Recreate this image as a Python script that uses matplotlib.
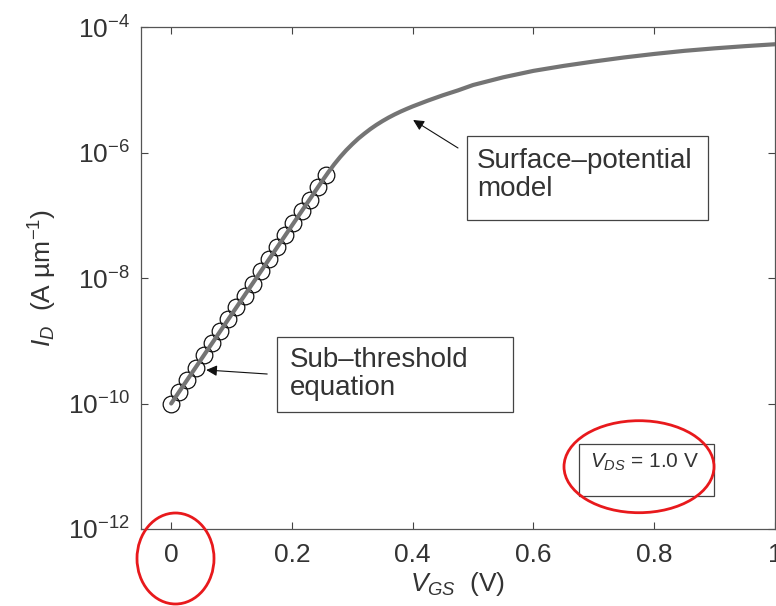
import matplotlib
matplotlib.use("Agg")
import matplotlib.pyplot as plt
from matplotlib.patches import Ellipse, Rectangle
import numpy as np

plt.rcParams['font.family'] = ['Liberation Sans', 'DejaVu Sans']
plt.rcParams['mathtext.fontset'] = 'custom'
plt.rcParams['mathtext.rm'] = 'Liberation Sans'
plt.rcParams['mathtext.it'] = 'Liberation Sans:italic'
plt.rcParams['mathtext.default'] = 'regular'

# sub-threshold equation points (circles)
vgs_sub = [0.0, 0.0135, 0.027, 0.0405, 0.054, 0.0675, 0.081, 0.0945, 0.108, 0.1215,
           0.135, 0.1485, 0.162, 0.1755, 0.189, 0.2025, 0.216, 0.2295, 0.243, 0.2565]
id_sub = [1.00e-10, 1.55e-10, 2.40e-10, 3.72e-10, 5.89e-10, 9.12e-10, 1.41e-9, 2.19e-9,
          3.39e-9, 5.25e-9, 8.13e-9, 1.29e-8, 2.00e-8, 3.09e-8, 4.79e-8, 7.41e-8,
          1.15e-7, 1.78e-7, 2.82e-7, 4.37e-7]

# surface-potential model curve
vgs_model = [0.0, 0.1, 0.2, 0.25, 0.26, 0.27, 0.28, 0.29, 0.30, 0.31, 0.32, 0.33,
             0.34, 0.35, 0.36, 0.37, 0.38, 0.39, 0.40, 0.425, 0.45, 0.475, 0.50,
             0.55, 0.60, 0.65, 0.70, 0.75, 0.80, 0.85, 0.90, 0.95, 1.00]
id_model = [1.0e-10, 2.62e-9, 6.86e-8, 3.51e-7, 4.82e-7, 6.49e-7, 8.51e-7, 1.09e-6,
            1.36e-6, 1.67e-6, 2.00e-6, 2.37e-6, 2.76e-6, 3.17e-6, 3.60e-6, 4.04e-6,
            4.49e-6, 4.95e-6, 5.43e-6, 6.71e-6, 8.17e-6, 9.77e-6, 1.19e-5,
            1.58e-5, 2.00e-5, 2.40e-5, 2.82e-5, 3.27e-5, 3.72e-5, 4.17e-5, 4.57e-5,
            4.95e-5, 5.31e-5]

xticks = [0, 0.2, 0.4, 0.6, 0.8, 1]
xtick_labels = ["0", "0.2", "0.4", "0.6", "0.8", "1"]
yticks = [1e-12, 1e-10, 1e-8, 1e-6, 1e-4]
ytick_labels = [r"$10^{-12}$", r"$10^{-10}$", r"$10^{-8}$", r"$10^{-6}$", r"$10^{-4}$"]

txt = '#333333'
fig = plt.figure(figsize=(7.76, 6.06), dpi=100)
ax = fig.add_axes([141/776, 77/606, 634/776, 502/606])

ax.semilogy(vgs_sub, id_sub, 'o', ms=12, mfc='none', mec='#111111', mew=0.9, zorder=2)
ax.semilogy(vgs_model, id_model, '-', color='#747474', lw=3, zorder=3,
            solid_joinstyle='round', solid_capstyle='round')

ax.set_xlim(-0.05, 1)
ax.set_ylim(1e-12, 1e-4)
ax.set_xticks(xticks)
ax.set_xticklabels(xtick_labels)
ax.set_yticks(yticks)
ax.set_yticklabels(ytick_labels)
ax.minorticks_off()
ax.tick_params(direction='in', length=5, width=0.8, colors='#444444', labelcolor=txt,
               labelsize=19, top=True, right=True)
ax.tick_params(axis='x', pad=10)
ax.tick_params(axis='y', pad=8)
for s in ax.spines.values():
    s.set_color('#555555')
    s.set_linewidth(0.9)

ax.set_xlabel(r"$\mathit{V_{GS}}$  (V)", fontsize=19, color=txt, labelpad=2)
ax.set_ylabel(r"$\mathit{I_D}$  (A µm$^{-1}$)", fontsize=19, color=txt, labelpad=6)

# annotation boxes
ax.add_patch(Rectangle((0.49, 10**-7.076), 0.889 - 0.49, 10**-5.737 - 10**-7.076,
                       fill=False, ec='#444444', lw=0.9, zorder=4))
ax.text(0.5066, 10**-6.36, "Surface–potential\nmodel", fontsize=20, color=txt,
        va='center', ha='left', linespacing=1.12, zorder=5)
ax.annotate("", xy=(0.4007, 10**-5.482), xytext=(0.475, 10**-5.928),
            arrowprops=dict(arrowstyle='-|>', color='#111111', lw=0.8,
                            mutation_scale=16, shrinkA=0, shrinkB=0))

ax.add_patch(Rectangle((0.1755, 10**-10.135), 0.566 - 0.1755, 10**-8.94 - 10**-10.135,
                       fill=False, ec='#444444', lw=0.9, zorder=4))
ax.text(0.197, 10**-9.53, "Sub–threshold\nequation", fontsize=20, color=txt,
        va='center', ha='left', linespacing=1.12, zorder=5)
ax.annotate("", xy=(0.058, 10**-9.466), xytext=(0.159, 10**-9.53),
            arrowprops=dict(arrowstyle='-|>', color='#111111', lw=0.8,
                            mutation_scale=16, shrinkA=0, shrinkB=0))

ax.add_patch(Rectangle((0.6755, 10**-11.474), 0.899 - 0.6755, 10**-10.645 - 10**-11.474,
                       fill=False, ec='#444444', lw=0.9, zorder=4))
ax.text(0.694, 10**-10.93, r"$\mathit{V_{DS}}$ = 1.0 V", fontsize=15, color=txt,
        va='center', ha='left', zorder=5)

# red highlight ellipses (figure pixel coordinates)
W, H = 776, 606
for cx, cy, w, h in [(175.5, 558.5, 77, 91), (639, 466.7, 150, 92)]:
    fig.patches.append(Ellipse((cx / W, 1 - cy / H), w / W, h / H,
                               transform=fig.transFigure, fill=False,
                               ec='#e8191c', lw=2.0, zorder=10))

fig.savefig("out.png", dpi=100)
